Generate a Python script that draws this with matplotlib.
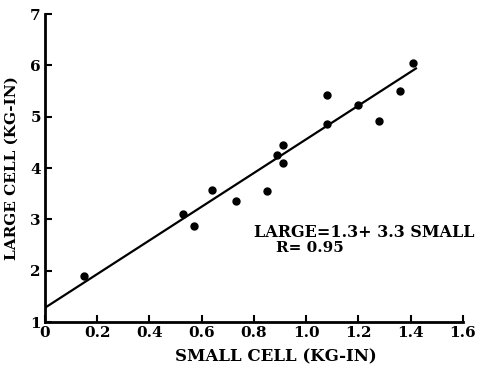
import matplotlib
matplotlib.use('Agg')
import matplotlib.pyplot as plt

# data
small_cell = [0.15, 0.53, 0.57, 0.64, 0.73, 0.85, 0.89, 0.91, 0.91,
              1.08, 1.08, 1.20, 1.28, 1.36, 1.41]
large_cell = [1.9, 3.1, 2.88, 3.58, 3.35, 3.55, 4.25, 4.45, 4.1,
              5.43, 4.85, 5.22, 4.92, 5.5, 6.05]

# regression line end points
fit_x = [0.0, 1.42]
fit_y = [1.28, 5.94]

x_ticks = [0, 0.2, 0.4, 0.6, 0.8, 1.0, 1.2, 1.4, 1.6]
x_tick_labels = ['0', '0.2', '0.4', '0.6', '0.8', '1.0', '1.2', '1.4', '1.6']
y_ticks = [1, 2, 3, 4, 5, 6, 7]

plt.rcParams['font.family'] = ['DejaVu Serif']
plt.rcParams['font.weight'] = 'bold'

fig = plt.figure(figsize=(4.86, 3.69), dpi=100)
ax = fig.add_axes([0.0926, 0.127, 0.860, 0.835])

ax.plot(fit_x, fit_y, color='black', linewidth=1.6, zorder=2)
ax.plot(small_cell, large_cell, 'o', color='black', markersize=5, zorder=3)

ax.set_xlim(0, 1.6)
ax.set_ylim(1, 7)
ax.set_xticks(x_ticks)
ax.set_xticklabels(x_tick_labels)
ax.set_yticks(y_ticks)

ax.spines['top'].set_visible(False)
ax.spines['right'].set_visible(False)
ax.spines['left'].set_linewidth(2)
ax.spines['bottom'].set_linewidth(2)
ax.tick_params(direction='in', length=5, width=1.5, labelsize=11, pad=3)

ax.set_xlabel('SMALL CELL (KG-IN)', fontsize=12, fontweight='bold')
ax.xaxis.set_label_coords(0.553, -0.085)
ax.set_ylabel('LARGE CELL (KG-IN)', fontsize=11, fontweight='bold')
ax.yaxis.set_label_coords(-0.062, 0.5)

ax.text(0.80, 2.75, 'LARGE=1.3+ 3.3 SMALL', fontsize=11.5, fontweight='bold',
        ha='left', va='center', clip_on=False)
ax.text(1.013, 2.44, 'R= 0.95', fontsize=11, fontweight='bold',
        ha='center', va='center')

fig.savefig('out.png', dpi=100)
